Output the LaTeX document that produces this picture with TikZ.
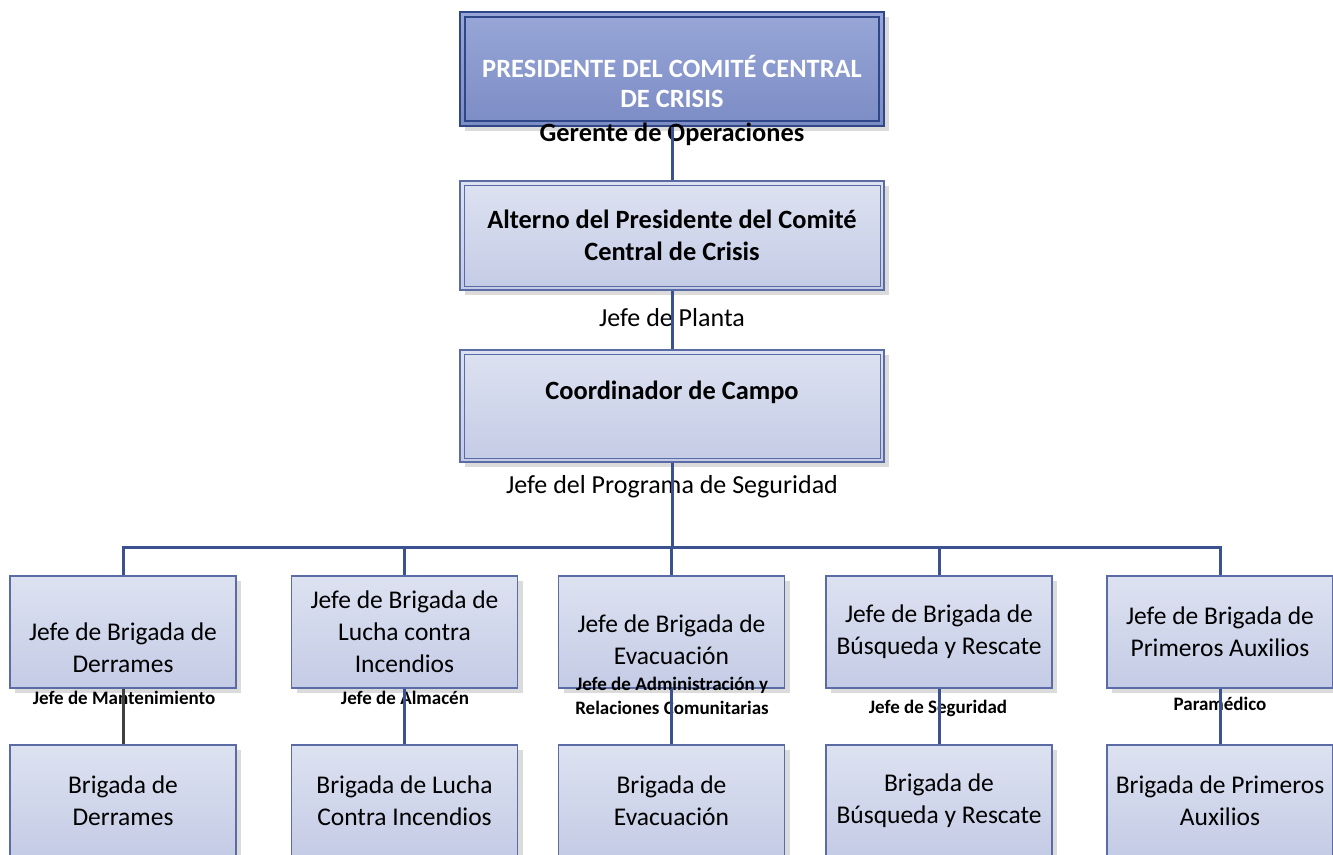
\documentclass[tikz,border=0pt]{standalone}
\usepackage{fontspec}
\setmainfont{Carlito}
\usetikzlibrary{shadows}
\definecolor{linea}{HTML}{3C5290}
\definecolor{borde}{HTML}{5A6BA5}
\definecolor{claroA}{HTML}{DDE2F1}
\definecolor{claroB}{HTML}{C4CBE5}
\definecolor{jefeA}{HTML}{98A7D7}
\definecolor{jefeB}{HTML}{7C8CC5}
\definecolor{jefeBorde}{HTML}{2F4787}
\tikzset{
  caja/.style={draw=borde, line width=1.2pt, top color=claroA, bottom color=claroB,
    minimum width=226pt, minimum height=112pt, inner sep=0pt, align=center,
    font=\fontsize{25.5}{32}\selectfont,
    drop shadow={shadow xshift=5pt, shadow yshift=-5pt, fill=black!14, opacity=1}},
  cajadoble/.style={caja, minimum width=424pt, font=\bfseries\fontsize{26.4}{32}\selectfont,
    path picture={\draw[borde, line width=0.8pt]
      ([shift={(4pt,-4pt)}]path picture bounding box.north west) rectangle
      ([shift={(-4pt,4pt)}]path picture bounding box.south east);}},
  cajajefe/.style={cajadoble, draw=jefeBorde, line width=2.6pt, top color=jefeA, bottom color=jefeB,
    minimum height=114pt, text=white, font=\bfseries\fontsize{26.4}{30}\selectfont,
    path picture={\draw[jefeBorde, line width=1.4pt]
      ([shift={(5pt,-5pt)}]path picture bounding box.north west) rectangle
      ([shift={(-5pt,5pt)}]path picture bounding box.south east);}},
  cargo/.style={inner sep=0pt, align=center, font=\fontsize{26}{30}\selectfont},
  cargochico/.style={inner sep=0pt, align=center, font=\bfseries\fontsize{19}{24}\selectfont},
  conector/.style={draw=linea, line width=3pt}
}
\begin{document}
\begin{tikzpicture}[x=1pt,y=-1pt]
\def \yjefes{632};
\def \ybrig{801};
\useasboundingbox (0,0) rectangle (1333,854);
\node[cajajefe] (pres) at (672,69) {\vphantom{J}\\PRESIDENTE DEL COMITÉ CENTRAL\\DE CRISIS};
\node[cajadoble, minimum height=109pt] (alt) at (672,235.5) {Alterno del Presidente del Comité\\Central de Crisis};
\node[cajadoble] (coord) at (672,406) {Coordinador de Campo\\\mbox{}};
\node[cargo, font=\bfseries\fontsize{26.4}{30}\selectfont] (gerente) at (672,134) {Gerente de Operaciones};
\node[cargo] (planta) at (672,318) {Jefe de Planta};
\node[cargo] (programa) at (672,487) {Jefe del Programa de Seguridad};
\foreach \x/\n/\t in {123/j1/{\vphantom{Jf}\\Jefe de Brigada de\\Derrames},
  404.5/j2/{Jefe de Brigada de\\Lucha contra\\Incendios},
  671.5/j3/{\vphantom{J}\\[-16pt] Jefe de Brigada de\\Evacuación},
  939/j4/{Jefe de Brigada de\\Búsqueda y Rescate},
  1220/j5/{Jefe de Brigada de\\Primeros Auxilios}}{
  \node[caja] (\n) at (\x,\yjefes) {\t};}
\foreach \x/\n/\t in {123/b1/{Brigada de\\Derrames},
  404.5/b2/{Brigada de Lucha\\Contra Incendios},
  671.5/b3/{Brigada de\\Evacuación},
  939/b4/{Brigada de\\Búsqueda y Rescate},
  1220/b5/{Brigada de Primeros\\Auxilios}}{
  \node[caja] (\n) at (\x,\ybrig) {\t};}
\node[cargochico] (mant) at (124,698) {Jefe de Mantenimiento};
\node[cargochico] (almacen) at (405,698) {Jefe de Almacén};
\node[cargochico] (admin) at (672,696) {Jefe de Administración y\\Relaciones Comunitarias};
\node[cargochico] (seguridad) at (938,708) {Jefe de Seguridad};
\node[cargochico] (paramedico) at (1220,704) {Paramédico};
\draw[conector] (pres.south) -- (alt.north);
\draw[conector] (alt.south) -- (coord.north);
\coordinate (bus) at ([yshift=-85pt]coord.south);
\foreach \n in {j1,j2,j3,j4,j5}{\draw[conector] (coord.south) -- (bus) -| (\n.north);}
\draw[conector, draw=black!75] (j1.south) -- (b1.north);
\foreach \n/\m in {j2/b2,j3/b3,j4/b4,j5/b5}{\draw[conector] (\n.south) -- (\m.north);}
\end{tikzpicture}
\end{document}
